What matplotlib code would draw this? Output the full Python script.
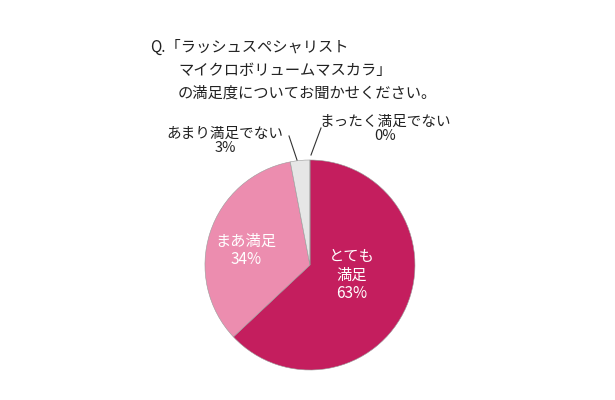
import matplotlib
matplotlib.use("Agg")
import matplotlib.pyplot as plt

plt.rcParams['font.family'] = ['Noto Sans CJK JP', 'DejaVu Sans']

categories = ["とても\n満足", "まあ満足", "あまり満足でない", "まったく満足でない"]
values = [63, 34, 3, 0]
colors = ["#C41E5E", "#EC8DAF", "#E6E6E6", "#FFFFFF"]

fig = plt.figure(figsize=(6.15, 4.0), dpi=100)
fig.patch.set_facecolor("white")
ax = fig.add_axes([0.504 - 0.171, 0.3375 - 0.2625, 0.342, 0.525])
ax.pie(values, colors=colors, startangle=90, counterclock=False,
       wedgeprops=dict(edgecolor="#9a9a9a", linewidth=0.4))
ax.set_xlim(-1.0, 1.0)
ax.set_ylim(-1.0, 1.0)
ax.set_aspect("equal")

def fx(px): return px / 615
def fy(py): return 1 - py / 400

fig.text(fx(150), fy(47), "Q.「ラッシュスペシャリスト", fontsize=11, va="center", color="#222")
fig.text(fx(178), fy(70), "マイクロボリュームマスカラ」", fontsize=11, va="center", color="#222")
fig.text(fx(178), fy(93), "の満足度についてお聞かせください。", fontsize=11, va="center", color="#222")

fig.text(fx(385), fy(129), "まったく満足でない\n0%", fontsize=10.5, ha="center", va="center",
         color="#222", linespacing=1.05)
fig.text(fx(225), fy(141), "あまり満足でない\n3%", fontsize=10.5, ha="center", va="center",
         color="#222", linespacing=1.05)

fig.add_artist(plt.Line2D([fx(297), fx(289)], [fy(160), fy(136)], color="#333", lw=0.8))
fig.add_artist(plt.Line2D([fx(311), fx(321)], [fy(155), fy(128)], color="#333", lw=0.8))

fig.text(fx(246), fy(250), "まあ満足\n34%", fontsize=11, ha="center", va="center",
         color="white", linespacing=1.1)
fig.text(fx(352), fy(275), "とても\n満足\n63%", fontsize=11, ha="center", va="center",
         color="white", linespacing=1.1)

fig.savefig("out.png", dpi=100, facecolor="white")
